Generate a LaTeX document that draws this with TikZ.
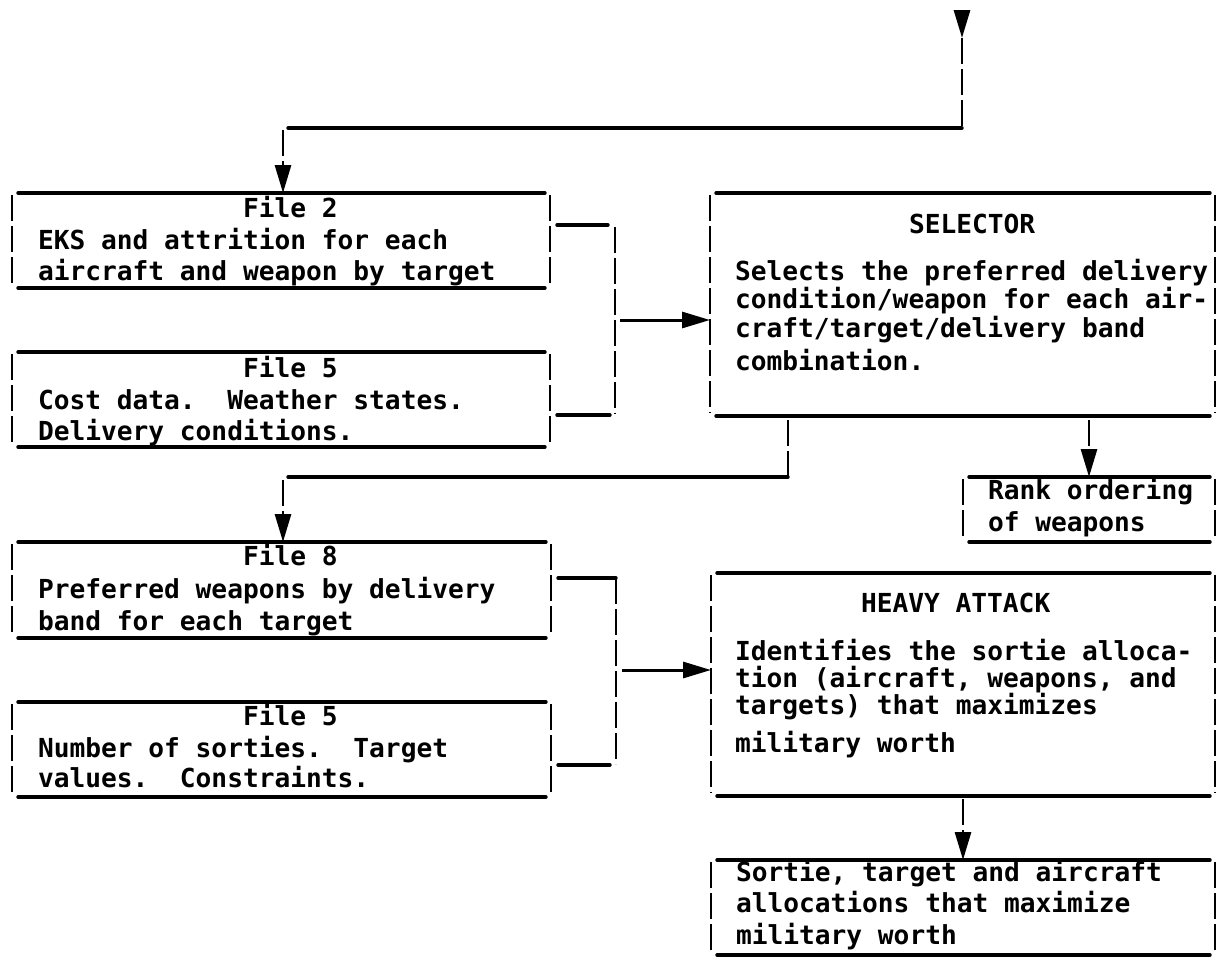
\documentclass[tikz,border=0pt]{standalone}
\usepackage{fontspec}
\newfontfamily\tw{DejaVu Sans Mono}
\usetikzlibrary{arrows.meta,calc}
\newcommand\flowbox[5]{%
  \node[boxnode, minimum width={#4-#2}, minimum height={#5-#3}] (#1) at ({(#2+#4)/2},{(#3+#5)/2}) {};
  \draw[hline] ($(#1.north west)+(6,0)$) -- ($(#1.north east)+(-5,0)$);
  \draw[hline] ($(#1.south west)+(6,0)$) -- ($(#1.south east)+(-5,0)$);
  \draw[vline] ($(#1.north west)+(0,2)$) -- ($(#1.south west)+(0,-3)$);
  \draw[vline] ($(#1.north east)+(0,2)$) -- ($(#1.south east)+(0,-3)$);
}
\begin{document}
\begin{tikzpicture}[x=1pt,y=-1pt,
  hline/.style={line width=3.4pt, line cap=round},
  vline/.style={line width=2.8pt, dash pattern=on 26pt off 5pt},
  conn/.style={line width=3pt},
  tip/.style={-{Triangle[length=28pt,width=16pt]}},
  txt/.style={anchor=base west, inner sep=0, outer sep=0, font=\tw\bfseries\fontsize{26.2}{31}\selectfont},
  boxnode/.style={inner sep=0, outer sep=0, draw=none}]
\useasboundingbox (0,0) rectangle (1223,961);
\frenchspacing

% boxes
\flowbox{F2}{12}{193}{550}{288}
\flowbox{F5a}{12}{352}{550}{447}
\flowbox{SEL}{710}{193}{1215}{416}
\flowbox{RANK}{963}{477}{1215}{542}
\flowbox{F8}{12}{542}{551}{638}
\flowbox{F5b}{12}{702}{551}{797}
\flowbox{HA}{711}{573}{1215}{796}
\flowbox{OUT}{711}{860}{1215}{955}

% texts
\node[txt] (F2t) at (243,217) {File 2};
\node[txt] (F2a) at (38,249) {EKS and attrition for each};
\node[txt] (F2b) at (38,280) {aircraft and weapon by target};

\node[txt] (F5at) at (243,377) {File 5};
\node[txt] (F5aa) at (38,409) {Cost data.~~Weather states.};
\node[txt] (F5ab) at (38,440) {Delivery conditions.};

\node[txt] (SELt) at (909,233) {SELECTOR};
\node[txt] (SELa) at (735,280) {Selects the preferred delivery};
\node[txt] (SELb) at (735,308) {condition/weapon for each air-};
\node[txt] (SELc) at (735,337) {craft/target/delivery band};
\node[txt] (SELd) at (735,370) {combination.};

\node[txt] (RANKa) at (988,499) {Rank ordering};
\node[txt] (RANKb) at (988,531) {of weapons};

\node[txt] (F8t) at (243,565) {File 8};
\node[txt] (F8a) at (38,598) {Preferred weapons by delivery};
\node[txt] (F8b) at (38,630) {band for each target};

\node[txt] (F5bt) at (243,725) {File 5};
\node[txt] (F5ba) at (38,757) {Number of sorties.~~Target};
\node[txt] (F5bb) at (38,787) {values.~~Constraints.};

\node[txt] (HAt) at (861,612) {HEAVY ATTACK};
\node[txt] (HAa) at (735,660) {Identifies the sortie alloca-};
\node[txt] (HAb) at (735,687) {tion (aircraft, weapons, and};
\node[txt] (HAc) at (735,714) {targets) that maximizes};
\node[txt] (HAd) at (735,752) {military worth};

\node[txt] (OUTa) at (736,881) {Sortie, target and aircraft};
\node[txt] (OUTb) at (736,912) {allocations that maximize};
\node[txt] (OUTc) at (736,944) {military worth};

% incoming connector
\coordinate (in0) at (962,10);
\coordinate (in1) at (962,38);
\coordinate (c1) at (962,128);
\coordinate (c2) at (283,128);
\draw[conn,tip] (in0) -- (in1);
\draw[vline] (in1) -- (c1);
\draw[hline] (c1) -- ($(c2)+(5,0)$);
\draw[vline,tip] ($(c2)+(0,2)$) -- (c2 |- F2.north);

% bracket 1
\coordinate (b1) at (615,227);
\coordinate (b2) at (615,414);
\coordinate (b3) at (615,320);
\draw[hline] ($(F2.north east)+(7,32)$) -- ($(b1)+(-7,-2)$);
\draw[vline] (b1) -- (b2);
\draw[hline] ($(F5a.north east)+(7,63)$) -- ($(b2)+(-5,1)$);
\draw[conn,tip] ($(b3)+(5,0)$) -- (SEL.west |- b3);

% selector outputs
\coordinate (d1) at (788,477);
\coordinate (d2) at (283,477);
\draw[vline] ($(SEL.south -| d1)+(0,4)$) -- (d1);
\draw[hline] (d1) -- ($(d2)+(5,0)$);
\draw[vline,tip] ($(d2)+(0,3)$) -- (d2 |- F8.north);
\draw[vline,tip] ($(SEL.south -| RANK.north)+(0,4)$) -- (RANK.north);

% bracket 2
\coordinate (e1) at (616,578);
\coordinate (e2) at (616,764);
\coordinate (e3) at (616,670);
\draw[hline] ($(F8.north east)+(7,36)$) -- (e1);
\draw[vline] (e1) -- (e2);
\draw[hline] ($(F5b.north east)+(7,63)$) -- ($(e2)+(-6,1)$);
\draw[conn,tip] ($(e3)+(6,0)$) -- (HA.west |- e3);

% heavy attack output
\draw[vline,tip] ($(HA.south -| OUT.north)+(0,3)$) -- (OUT.north);
\end{tikzpicture}
\end{document}
